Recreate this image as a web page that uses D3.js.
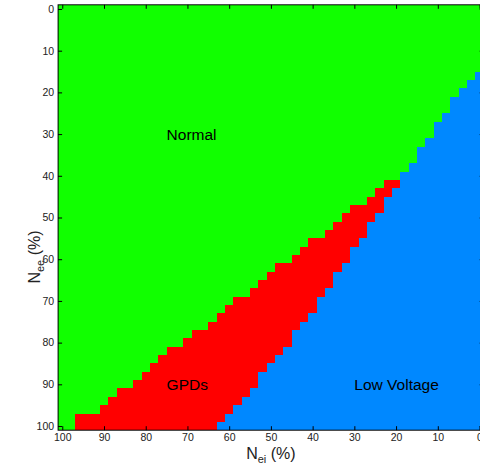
<!DOCTYPE html>
<html>
<head>
<meta charset="utf-8">
<script src="https://cdn.jsdelivr.net/npm/d3@7"></script>
<style>
  body { margin: 0; background: #fff; }
  svg { display: block; font-family: "Liberation Sans", Arial, sans-serif; }
</style>
</head>
<body>
<svg id="chart" width="480" height="469"></svg>
<script>
const width = 480;
const height = 469;

// grid values (%), one cell every 2 %
const neiValues = [0, 2, 4, 6, 8, 10, 12, 14, 16, 18, 20, 22, 24, 26, 28, 30, 32, 34, 36, 38, 40,
  42, 44, 46, 48, 50, 52, 54, 56, 58, 60, 62, 64, 66, 68, 70, 72, 74, 76, 78, 80,
  82, 84, 86, 88, 90, 92, 94, 96, 98, 100];
const neeValues = neiValues.slice();

// first N_ee that is not Normal any more, per N_ei column (null = Normal down to 100)
const normalEnd = [16, 18, 20, 22, 26, 28, 32, 34, 38, 40, 42, 42, 44, 46, 48, 48, 50, 52, 54, 56, 56,
  58, 60, 62, 62, 64, 66, 68, 70, 70, 72, 74, 76, 78, 78, 80, 82, 82, 84, 86, 88,
  90, 92, 92, 94, 96, 98, 98, 98, null, null];
// first N_ee that is Low Voltage, per N_ei column (null = none)
const lowVoltageStart = [16, 18, 20, 22, 26, 28, 32, 34, 38, 40, 44, 46, 50, 52, 56, 58, 62, 64, 68, 70, 74,
  76, 78, 82, 84, 86, 88, 92, 94, 96, 98, 100, null, null, null, null, null, null, null, null, null,
  null, null, null, null, null, null, null, null, null, null];

const regionColors = ["#11ff00", "#ff0000", "#0088ff"]; // Normal, GPDs, Low Voltage

const xTicks = [100, 90, 80, 70, 60, 50, 40, 30, 20, 10, 0];
const yTicks = [0, 10, 20, 30, 40, 50, 60, 70, 80, 90, 100];

const labels = [
  { text: "Normal", nei: 75, nee: 30 },
  { text: "GPDs", nei: 75, nee: 90 },
  { text: "Low Voltage", nei: 30, nee: 90 }
];

const x = d3.scaleLinear().domain([101, -1]).range([58.1, 483.7]);
const y = d3.scaleLinear().domain([-1, 101]).range([4.8, 430.2]);

function regionOf(i, w) {
  if (normalEnd[i] == null || w < normalEnd[i]) return 0;
  if (lowVoltageStart[i] == null || w < lowVoltageStart[i]) return 1;
  return 2;
}

const cells = [];
neiValues.forEach((v, i) => {
  neeValues.forEach(w => cells.push({ nei: v, nee: w, region: regionOf(i, w) }));
});

const svg = d3.select("#chart");

svg.append("g")
  .attr("shape-rendering", "crispEdges")
  .selectAll("rect")
  .data(cells)
  .join("rect")
    .attr("x", d => x(d.nei + 1))
    .attr("y", d => y(d.nee - 1))
    .attr("width", d => x(d.nei - 1) - x(d.nei + 1))
    .attr("height", d => y(d.nee + 1) - y(d.nee - 1))
    .attr("fill", d => regionColors[d.region]);

svg.append("g")
  .selectAll("text")
  .data(labels)
  .join("text")
    .attr("x", d => x(d.nei))
    .attr("y", d => y(d.nee))
    .attr("dy", "0.35em")
    .attr("font-size", "15.5px")
    .attr("fill", "#000")
    .text(d => d.text);

// axes, ticks inside like the original
const axisB = svg.append("g")
  .attr("transform", `translate(0,${y(101)})`)
  .call(d3.axisBottom(x).tickValues(xTicks).tickSizeInner(-4).tickSizeOuter(0).tickPadding(3));
const axisT = svg.append("g")
  .attr("transform", `translate(0,${y(-1)})`)
  .call(d3.axisTop(x).tickValues(xTicks).tickSizeInner(-4).tickSizeOuter(0).tickFormat(""));
const axisL = svg.append("g")
  .attr("transform", `translate(${x(101)},0)`)
  .call(d3.axisLeft(y).tickValues(yTicks).tickSizeInner(-4).tickSizeOuter(0).tickPadding(4));
const axisR = svg.append("g")
  .attr("transform", `translate(${x(-1)},0)`)
  .call(d3.axisRight(y).tickValues(yTicks).tickSizeInner(-4).tickSizeOuter(0).tickFormat(""));

[axisB, axisT, axisL, axisR].forEach(g => {
  g.select(".domain").remove();
  g.selectAll("line").attr("stroke", "#000");
  g.selectAll("text")
    .attr("font-size", "10.5px")
    .attr("font-family", "Liberation Sans, Arial, sans-serif")
    .attr("fill", "#222");
});

svg.append("rect")
  .attr("x", x(101))
  .attr("y", y(-1))
  .attr("width", x(-1) - x(101))
  .attr("height", y(101) - y(-1))
  .attr("fill", "none")
  .attr("stroke", "#000")
  .attr("stroke-width", 1);

// axis titles
const xTitle = svg.append("text")
  .attr("x", x(50))
  .attr("y", 459)
  .attr("text-anchor", "middle")
  .attr("font-size", "16px")
  .attr("fill", "#222");
xTitle.append("tspan").text("N");
xTitle.append("tspan").attr("font-size", "11px").attr("dy", 4).text("ei");
xTitle.append("tspan").attr("dy", -4).text(" (%)");

const yTitle = svg.append("text")
  .attr("transform", "translate(40,257) rotate(-90)")
  .attr("text-anchor", "middle")
  .attr("font-size", "16px")
  .attr("fill", "#222");
yTitle.append("tspan").text("N");
yTitle.append("tspan").attr("font-size", "11px").attr("dy", 4).text("ee");
yTitle.append("tspan").attr("dy", -4).text(" (%)");
</script>
</body>
</html>
